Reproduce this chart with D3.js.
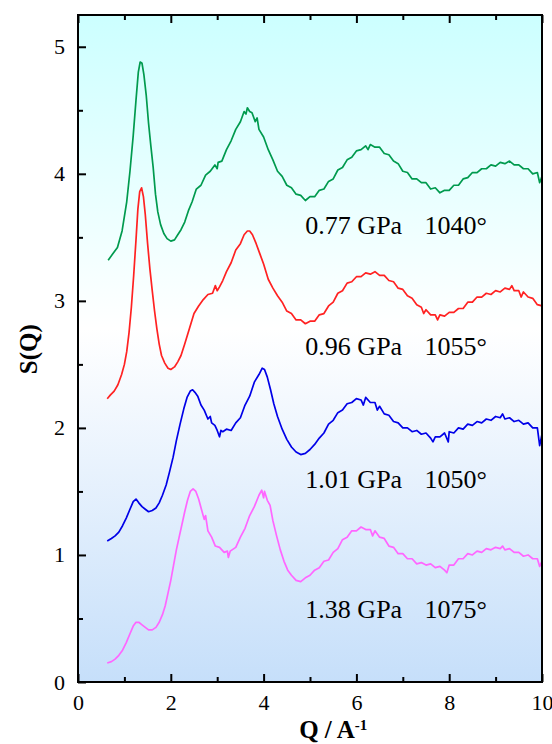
<!DOCTYPE html>
<html>
<head>
<meta charset="utf-8">
<script src="https://cdn.jsdelivr.net/npm/d3@7"></script>
<style>
  body { margin: 0; background: #fff; }
  svg { display: block; }
</style>
</head>
<body>
<svg id="chart" width="552" height="744"></svg>
<script>
// S(Q) curves, [Q, S(Q)]
const curve077 = [
  [0.65,3.32],[0.75,3.37],[0.85,3.42],[0.95,3.55],[1.05,3.78],[1.12,4.02],[1.19,4.30],[1.25,4.58],
  [1.30,4.80],[1.34,4.88],[1.38,4.87],[1.42,4.78],[1.47,4.62],[1.52,4.40],[1.57,4.22],[1.62,4.05],
  [1.67,3.84],[1.72,3.70],[1.78,3.60],[1.85,3.53],[1.92,3.49],[2.00,3.47],[2.08,3.48],[2.15,3.52],
  [2.22,3.56],[2.30,3.62],[2.38,3.71],[2.46,3.78],[2.55,3.88],[2.65,3.91],[2.75,3.99],[2.85,4.02],
  [2.95,4.07],[3.00,4.04],[3.02,4.09],[3.10,4.10],[3.20,4.19],[3.30,4.26],[3.40,4.35],[3.50,4.41],
  [3.58,4.49],[3.62,4.47],[3.65,4.52],[3.70,4.49],[3.75,4.48],[3.82,4.41],[3.86,4.44],[3.90,4.35],
  [4.00,4.29],[4.10,4.19],[4.20,4.11],[4.30,4.02],[4.40,3.98],[4.50,3.91],[4.60,3.89],[4.70,3.84],
  [4.80,3.83],[4.90,3.79],[5.00,3.82],[5.10,3.82],[5.20,3.87],[5.30,3.88],[5.40,3.94],[5.50,3.96],
  [5.60,4.03],[5.70,4.05],[5.80,4.11],[5.90,4.13],[6.00,4.18],[6.10,4.19],[6.20,4.22],[6.25,4.19],
  [6.30,4.23],[6.40,4.21],[6.50,4.21],[6.60,4.16],[6.70,4.15],[6.80,4.10],[6.90,4.08],[7.00,4.02],
  [7.10,4.01],[7.20,3.96],[7.30,3.96],[7.40,3.93],[7.50,3.93],[7.60,3.88],[7.70,3.89],[7.80,3.85],
  [7.90,3.87],[8.00,3.87],[8.10,3.91],[8.20,3.91],[8.30,3.96],[8.40,3.97],[8.50,4.01],[8.60,4.01],
  [8.70,4.04],[8.80,4.04],[8.90,4.07],[9.00,4.06],[9.10,4.09],[9.20,4.08],[9.30,4.10],[9.40,4.07],
  [9.50,4.07],[9.60,4.04],[9.70,4.04],[9.80,4.00],[9.90,4.01],[9.95,3.93],[10.0,3.98]
];
const curve096 = [
  [0.63,2.23],[0.70,2.26],[0.78,2.29],[0.86,2.34],[0.94,2.42],[1.00,2.50],[1.05,2.60],[1.10,2.75],
  [1.15,2.95],[1.20,3.20],[1.25,3.48],[1.29,3.72],[1.33,3.86],[1.37,3.89],[1.41,3.82],[1.45,3.68],
  [1.50,3.45],[1.55,3.25],[1.60,3.08],[1.65,2.92],[1.70,2.78],[1.75,2.66],[1.80,2.57],[1.87,2.51],
  [1.94,2.47],[2.00,2.46],[2.08,2.48],[2.15,2.52],[2.22,2.57],[2.30,2.66],[2.40,2.78],[2.50,2.90],
  [2.60,2.96],[2.70,3.01],[2.80,3.05],[2.90,3.06],[2.96,3.12],[3.00,3.08],[3.05,3.11],[3.12,3.16],
  [3.20,3.23],[3.30,3.30],[3.40,3.40],[3.50,3.45],[3.58,3.52],[3.65,3.55],[3.70,3.55],[3.76,3.52],
  [3.84,3.45],[3.92,3.37],[4.00,3.29],[4.10,3.17],[4.20,3.10],[4.30,3.04],[4.40,2.99],[4.50,2.92],
  [4.60,2.90],[4.70,2.85],[4.80,2.85],[4.90,2.82],[5.00,2.84],[5.10,2.84],[5.20,2.89],[5.30,2.90],
  [5.40,2.96],[5.50,2.99],[5.60,3.06],[5.70,3.08],[5.80,3.14],[5.90,3.15],[6.00,3.19],[6.10,3.19],
  [6.20,3.22],[6.30,3.21],[6.40,3.23],[6.50,3.20],[6.60,3.20],[6.70,3.16],[6.80,3.15],[6.90,3.10],
  [7.00,3.09],[7.10,3.04],[7.20,3.02],[7.30,2.97],[7.40,2.95],[7.45,2.90],[7.50,2.93],[7.60,2.89],
  [7.70,2.89],[7.75,2.85],[7.80,2.89],[7.90,2.88],[8.00,2.91],[8.10,2.91],[8.20,2.94],[8.30,2.94],
  [8.40,2.99],[8.50,2.99],[8.60,3.03],[8.70,3.03],[8.80,3.06],[8.90,3.05],[9.00,3.08],[9.10,3.07],
  [9.20,3.10],[9.30,3.09],[9.35,3.12],[9.40,3.08],[9.50,3.08],[9.55,3.03],[9.60,3.07],[9.70,3.03],
  [9.80,3.02],[9.90,2.97],[10.0,2.96]
];
const curve101 = [
  [0.63,1.11],[0.72,1.13],[0.80,1.15],[0.88,1.18],[0.96,1.23],[1.04,1.29],[1.12,1.36],[1.19,1.42],
  [1.25,1.44],[1.31,1.41],[1.38,1.38],[1.45,1.36],[1.52,1.34],[1.60,1.35],[1.68,1.37],[1.75,1.41],
  [1.82,1.47],[1.90,1.55],[1.97,1.65],[2.05,1.77],[2.12,1.90],[2.20,2.03],[2.28,2.15],[2.35,2.24],
  [2.42,2.29],[2.47,2.30],[2.52,2.28],[2.58,2.25],[2.65,2.18],[2.72,2.14],[2.80,2.07],[2.85,2.09],
  [2.88,2.04],[2.95,2.02],[3.00,1.98],[3.05,1.93],[3.08,1.98],[3.12,1.97],[3.20,1.99],[3.30,1.98],
  [3.40,2.04],[3.50,2.08],[3.60,2.18],[3.70,2.25],[3.80,2.36],[3.90,2.42],[3.97,2.47],[4.02,2.46],
  [4.08,2.40],[4.15,2.30],[4.22,2.19],[4.30,2.09],[4.40,1.99],[4.50,1.91],[4.60,1.85],[4.70,1.81],
  [4.80,1.79],[4.90,1.80],[5.00,1.83],[5.10,1.87],[5.20,1.92],[5.30,1.96],[5.40,2.03],[5.50,2.06],
  [5.60,2.12],[5.70,2.14],[5.80,2.19],[5.90,2.20],[6.00,2.23],[6.10,2.22],[6.15,2.18],[6.20,2.24],
  [6.30,2.20],[6.40,2.20],[6.45,2.14],[6.50,2.17],[6.60,2.11],[6.70,2.10],[6.80,2.05],[6.90,2.04],
  [7.00,2.00],[7.10,2.00],[7.20,1.97],[7.30,1.98],[7.40,1.95],[7.50,1.96],[7.60,1.92],[7.65,1.89],
  [7.70,1.93],[7.80,1.93],[7.90,1.96],[7.98,1.89],[8.00,1.97],[8.10,1.96],[8.20,2.00],[8.30,1.99],
  [8.40,2.03],[8.50,2.02],[8.60,2.05],[8.70,2.04],[8.80,2.07],[8.90,2.06],[9.00,2.09],[9.10,2.08],
  [9.15,2.11],[9.20,2.07],[9.30,2.08],[9.40,2.05],[9.50,2.06],[9.60,2.03],[9.70,2.04],[9.80,2.00],
  [9.90,2.00],[9.95,1.86],[10.0,1.95]
];
const curve138 = [
  [0.63,0.15],[0.72,0.16],[0.80,0.18],[0.88,0.21],[0.96,0.25],[1.04,0.31],[1.12,0.38],[1.19,0.44],
  [1.25,0.47],[1.31,0.47],[1.38,0.45],[1.45,0.43],[1.52,0.41],[1.60,0.41],[1.68,0.43],[1.75,0.47],
  [1.82,0.53],[1.88,0.60],[1.94,0.70],[2.00,0.80],[2.06,0.92],[2.12,1.04],[2.18,1.14],[2.24,1.24],
  [2.30,1.34],[2.36,1.43],[2.42,1.50],[2.48,1.52],[2.54,1.50],[2.60,1.44],[2.66,1.36],[2.72,1.28],
  [2.75,1.31],[2.80,1.19],[2.88,1.14],[2.96,1.07],[3.05,1.06],[3.15,1.02],[3.22,1.03],[3.24,0.98],
  [3.28,1.03],[3.32,1.04],[3.40,1.06],[3.50,1.14],[3.60,1.21],[3.70,1.31],[3.80,1.38],[3.90,1.47],
  [3.96,1.51],[4.00,1.45],[4.02,1.50],[4.08,1.43],[4.14,1.39],[4.20,1.27],[4.28,1.15],[4.36,1.04],
  [4.44,0.95],[4.52,0.88],[4.60,0.84],[4.70,0.80],[4.80,0.79],[4.90,0.82],[5.00,0.84],[5.10,0.88],
  [5.20,0.90],[5.30,0.95],[5.40,0.96],[5.50,1.02],[5.60,1.05],[5.70,1.12],[5.80,1.14],[5.90,1.19],
  [6.00,1.19],[6.10,1.22],[6.20,1.20],[6.30,1.20],[6.35,1.15],[6.40,1.19],[6.50,1.14],[6.60,1.13],
  [6.70,1.07],[6.80,1.06],[6.90,1.01],[7.00,1.01],[7.10,0.97],[7.20,0.97],[7.30,0.93],[7.40,0.94],
  [7.50,0.92],[7.60,0.93],[7.70,0.90],[7.80,0.91],[7.90,0.88],[7.95,0.86],[8.00,0.92],[8.10,0.92],
  [8.20,0.97],[8.30,0.97],[8.40,1.01],[8.50,1.00],[8.60,1.03],[8.70,1.02],[8.80,1.05],[8.90,1.04],
  [9.00,1.06],[9.10,1.05],[9.15,1.07],[9.20,1.04],[9.30,1.05],[9.40,1.02],[9.50,1.02],[9.60,0.99],
  [9.70,1.00],[9.80,0.97],[9.90,0.97],[9.95,0.91],[10.0,0.95]
];

const seriesData = [curve077, curve096, curve101, curve138];
const seriesColors = ["#009a4e", "#ff2222", "#0000e8", "#ff66ff"];
const pressureLabels = ["0.77 GPa", "0.96 GPa", "1.01 GPa", "1.38 GPa"];
const tempLabels = ["1040\u00b0", "1055\u00b0", "1050\u00b0", "1075\u00b0"];
const labelY = [3.53, 2.57, 1.53, 0.5];   // text baselines in S(Q) units
const xTicks = [0, 2, 4, 6, 8, 10];
const yTicks = [0, 1, 2, 3, 4, 5];

const serif = "'Liberation Serif', 'Times New Roman', Times, serif";

const svg = d3.select("#chart");
const margin = { top: 15, right: 10, bottom: 62, left: 78 };
const width = 552 - margin.left - margin.right;
const height = 744 - margin.top - margin.bottom;

const x = d3.scaleLinear().domain([0, 10]).range([0, width]);
const y = d3.scaleLinear().domain([0, 5.25]).range([height, 0]);

// background gradient, cyan -> white -> pale blue
const grad = svg.append("defs").append("linearGradient")
  .attr("id", "bg").attr("x1", 0).attr("y1", 0).attr("x2", 0).attr("y2", 1);
grad.append("stop").attr("offset", "0%").attr("stop-color", "#ccffff");
grad.append("stop").attr("offset", "47%").attr("stop-color", "#ffffff");
grad.append("stop").attr("offset", "100%").attr("stop-color", "#c6dffa");

const g = svg.append("g").attr("transform", `translate(${margin.left},${margin.top})`);

g.append("rect").attr("width", width).attr("height", height).attr("fill", "url(#bg)");

const line = d3.line().x(d => x(d[0])).y(d => y(d[1]));

g.selectAll(".curve")
  .data(seriesData)
  .join("path")
  .attr("class", "curve")
  .attr("fill", "none")
  .attr("stroke", (d, i) => seriesColors[i])
  .attr("stroke-width", 1.7)
  .attr("stroke-linejoin", "round")
  .attr("d", line);

// pressure / temperature labels
const labels = g.selectAll(".lbl")
  .data(pressureLabels)
  .join("g")
  .attr("class", "lbl")
  .attr("transform", (d, i) => `translate(0,${y(labelY[i])})`)
  .attr("font-family", serif)
  .attr("font-size", 26);
labels.append("text").attr("x", x(4.9)).text(d => d);
labels.append("text").attr("x", x(7.47)).text((d, i) => tempLabels[i]);

// axes, ticks pointing inward
const xAxis = g.append("g").attr("transform", `translate(0,${height})`)
  .call(d3.axisBottom(x).tickValues(xTicks).tickSize(-8).tickPadding(12).tickFormat(d3.format("d")));
const xMinor = g.append("g").attr("transform", `translate(0,${height})`)
  .call(d3.axisBottom(x).tickValues([1, 3, 5, 7, 9]).tickSize(-5).tickFormat(""));
const xTop = g.append("g")
  .call(d3.axisTop(x).tickValues(xTicks).tickSize(-8).tickFormat(""));
const xTopMinor = g.append("g")
  .call(d3.axisTop(x).tickValues([1, 3, 5, 7, 9]).tickSize(-5).tickFormat(""));
const yAxis = g.append("g")
  .call(d3.axisLeft(y).tickValues(yTicks).tickSize(-8).tickPadding(13).tickFormat(d3.format("d")));
const yMinor = g.append("g")
  .call(d3.axisLeft(y).tickValues([0.5, 1.5, 2.5, 3.5, 4.5]).tickSize(-5).tickFormat(""));

[xAxis, xMinor, xTop, xTopMinor, yAxis, yMinor].forEach(a => {
  a.attr("font-family", serif).attr("font-size", 22);
  a.select(".domain").remove();
  a.selectAll(".tick line").attr("stroke", "#000").attr("stroke-width", 2);
  a.selectAll(".tick text").attr("fill", "#000");
});

// frame
g.append("rect").attr("width", width).attr("height", height)
  .attr("fill", "none").attr("stroke", "#000").attr("stroke-width", 2);

// axis titles
svg.append("text")
  .attr("transform", `translate(37,${margin.top + y(2.62)}) rotate(-90)`)
  .attr("text-anchor", "middle")
  .attr("font-family", serif)
  .attr("font-weight", "bold")
  .attr("font-size", 25)
  .text("S(Q)");

const xt = svg.append("text")
  .attr("x", margin.left + x(5.5))
  .attr("y", 738)
  .attr("text-anchor", "middle")
  .attr("font-family", serif)
  .attr("font-weight", "bold")
  .attr("font-size", 25);
xt.append("tspan").text("Q / A");
xt.append("tspan").attr("dy", -8).attr("font-size", 15).text("-1");
</script>
</body>
</html>
